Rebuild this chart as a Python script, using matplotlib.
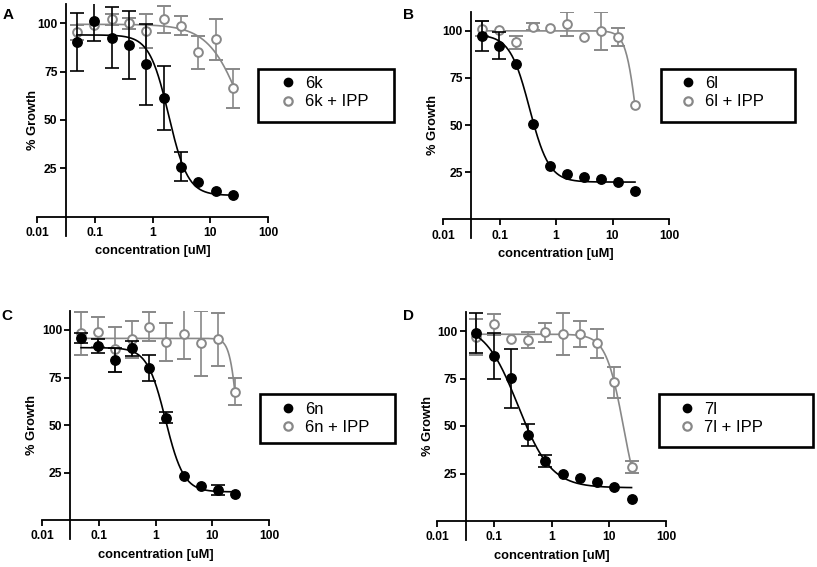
import numpy as np
import matplotlib
matplotlib.use("Agg")
import matplotlib.pyplot as plt
from matplotlib.lines import Line2D
from matplotlib.patches import Rectangle
from matplotlib.ticker import FixedLocator, FixedFormatter, NullLocator

plt.rcParams["font.family"] = ["Liberation Sans", "DejaVu Sans"]

W, H = 817, 567
GREY = "#888888"
nan = np.nan

# concentrations (uM), 2-fold dilution from 25
conc = [0.048828125, 0.09765625, 0.1953125, 0.390625, 0.78125,
        1.5625, 3.125, 6.25, 12.5, 25.0]
x_ticks = [0.01, 0.1, 1, 10, 100]
x_tick_labels = ["0.01", "0.1", "1", "10", "100"]
y_ticks = [25, 50, 75, 100]

compounds = ["6k", "6l", "6n", "7l"]
panel_letters = ["A", "B", "C", "D"]

# mean % growth and SD (nan = bar hidden behind the symbol)
a_mean = [90.5, 101.4, 92.6, 88.8, 78.8, 61.2, 25.8, 18.0, 13.4, 11.2]
a_sd = [15.0, 10.5, 15.7, 17.8, 21.0, 16.5, 7.5, nan, nan, nan]
a_ipp_mean = [95.3, 99.0, 102.0, 100.0, 96.0, 102.2, 98.8, 85.0, 91.7, 66.4]
a_ipp_sd = [4.0, nan, 3.0, 3.0, 9.0, 7.0, 5.0, 8.5, 10.5, 10.0]

b_mean = [97.3, 92.2, 82.5, 50.5, 28.3, 24.1, 22.2, 21.3, 20.0, 15.2]
b_sd = [8.0, 7.0, nan, nan, nan, nan, nan, nan, nan, nan]
b_ipp_mean = [101.0, 100.2, 94.0, 102.3, 101.4, 103.7, 96.6, 100.0, 96.5, 60.5]
b_ipp_sd = [4.0, nan, 3.5, 1.8, nan, 6.5, nan, 10.0, 4.8, nan]

c_mean = [95.9, 91.7, 84.2, 90.3, 79.8, 53.8, 23.2, 17.8, 15.7, 13.6]
c_sd = [2.5, 3.7, 6.5, 4.0, 6.8, 3.0, nan, nan, 2.5, nan]
c_ipp_mean = [98.2, 99.1, 89.8, 95.1, 101.8, 93.5, 97.9, 93.0, 95.1, 67.5]
c_ipp_sd = [11.3, 8.0, 12.0, 9.8, 7.7, 10.0, 13.0, 17.0, 13.8, 7.0]

d_mean = [99.1, 87.0, 75.1, 45.2, 31.7, 24.5, 22.4, 20.6, 18.0, 11.5]
d_sd = [10.5, 12.0, 15.4, 5.6, 3.3, nan, nan, nan, nan, nan]
d_ipp_mean = [97.0, 103.5, 95.8, 95.3, 99.3, 98.4, 98.4, 93.5, 73.0, 28.5]
d_ipp_sd = [9.4, 5.7, nan, 4.0, 5.0, 11.0, 7.0, 7.5, 8.3, 3.0]

# 4-parameter fits: top, bottom, IC50, hill slope
a_fit = [94.0, 11.0, 1.9, 2.6]
a_ipp_fit = [99.5, 0.0, 43.0, 1.4]
b_fit = [98.0, 19.7, 0.34, 2.5]
b_ipp_fit = [100.0, 0.0, 27.5, 4.4]
c_fit = [90.7, 14.8, 1.5, 2.7]
c_ipp_fit = [95.6, 0.0, 29.0, 6.0]
d_fit = [104.0, 17.5, 0.26, 1.5]
d_ipp_fit = [98.3, 0.0, 18.2, 2.82]

# layout in pixels: axes (x of 0.01, x of 100, y of 110, y of -10),
# legend box (left, top, right, bottom), legend marker x, legend centre y
axes_px = [(37, 268, 4, 236), (443, 669, 12, 238),
           (42, 269, 311, 539), (437, 666, 312, 540)]
ylabel_px = [33, 433, 32, 428]
legend_box_px = [(258, 69, 394, 122), (661, 69, 795, 122),
                 (260, 394, 395, 443), (659, 394, 813, 447)]
legend_mark_px = [(288, 92.7), (688, 92.7), (288, 418.3), (687, 418.3)]
letter_px = [(8, 15), (408, 15), (7, 316), (409, 316)]

panels = [
    (a_mean, a_sd, a_ipp_mean, a_ipp_sd, a_fit, a_ipp_fit),
    (b_mean, b_sd, b_ipp_mean, b_ipp_sd, b_fit, b_ipp_fit),
    (c_mean, c_sd, c_ipp_mean, c_ipp_sd, c_fit, c_ipp_fit),
    (d_mean, d_sd, d_ipp_mean, d_ipp_sd, d_fit, d_ipp_fit),
]


def four_pl(x, p):
    top, bottom, ic50, hill = p
    return bottom + (top - bottom) / (1 + (x / ic50) ** hill)


fig = plt.figure(figsize=(W / 100, H / 100), dpi=100)

for i, (mean, sd, ipp_mean, ipp_sd, fit, ipp_fit) in enumerate(panels):
    x0, x1, yt, yb = axes_px[i]
    ax = fig.add_axes([x0 / W, 1 - yb / H, (x1 - x0) / W, (yb - yt) / H])
    ax.set_xscale("log")
    ax.set_xlim(0.01, 100)
    ax.set_ylim(-10, 110)

    xs = np.logspace(np.log10(conc[0]), np.log10(conc[-1]), 300)

    # + IPP (grey, open)
    ax.plot(xs, four_pl(xs, ipp_fit), color=GREY, lw=1.2, zorder=2)
    ax.errorbar(conc, ipp_mean, yerr=np.array(ipp_sd, dtype=float),
                fmt="o", ms=6.3, mfc="white", mec=GREY, mew=1.4,
                ecolor=GREY, elinewidth=1.2, capsize=5.2, capthick=1.2,
                zorder=3)
    # compound alone (black, filled)
    ax.plot(xs, four_pl(xs, fit), color="black", lw=1.2, zorder=4)
    ax.errorbar(conc, mean, yerr=np.array(sd, dtype=float),
                fmt="o", ms=6.8, mfc="black", mec="black",
                ecolor="black", elinewidth=1.2, capsize=5.2, capthick=1.2,
                zorder=5)

    for s in ["top", "right"]:
        ax.spines[s].set_visible(False)
    ax.spines["left"].set_position(("data", 10 ** -1.5))
    ax.spines["bottom"].set_position(("data", 0))
    ax.spines["left"].set_linewidth(1.3)
    ax.spines["bottom"].set_linewidth(1.3)

    ax.xaxis.set_major_locator(FixedLocator(x_ticks))
    ax.xaxis.set_major_formatter(FixedFormatter(x_tick_labels))
    ax.xaxis.set_minor_locator(NullLocator())
    ax.set_yticks(y_ticks)
    ax.set_yticklabels([str(v) for v in y_ticks])
    ax.tick_params(axis="y", length=4, width=1.3, labelsize=8.7, pad=2)
    ax.tick_params(axis="x", length=4, width=1.3, labelsize=8.7, pad=3.5)
    for lab in ax.get_xticklabels() + ax.get_yticklabels():
        lab.set_fontweight("bold")

    ax.set_xlabel("concentration [uM]", fontsize=9.3, fontweight="bold",
                  labelpad=4.5)
    ax.set_ylabel("% Growth", fontsize=9.3, fontweight="bold",
                  va="center")
    ax.yaxis.set_label_coords((ylabel_px[i] - x0) / (x1 - x0), 0.5)

    lx, ly = letter_px[i]
    fig.text(lx / W, 1 - ly / H, panel_letters[i], fontsize=11,
             fontweight="bold", ha="center", va="center")

    bl, bt, br, bb = legend_box_px[i]
    fig.add_artist(Rectangle((bl / W, 1 - bb / H), (br - bl) / W,
                             (bb - bt) / H, transform=fig.transFigure,
                             fill=False, ec="black", lw=1.9))
    handles = [
        Line2D([], [], ls="none", marker="o", ms=6, mfc="black", mec="black"),
        Line2D([], [], ls="none", marker="o", ms=6, mfc="white", mec=GREY,
               mew=1.6),
    ]
    mx, my = legend_mark_px[i]
    fig.legend(handles, [compounds[i], compounds[i] + " + IPP"],
               loc="center left",
               bbox_to_anchor=((mx - 8.3) / W, 1 - my / H),
               frameon=False, borderpad=0, borderaxespad=0,
               handlelength=1.0, handletextpad=0.5, labelspacing=0.2,
               fontsize=12)

fig.savefig("out.png", dpi=100)
